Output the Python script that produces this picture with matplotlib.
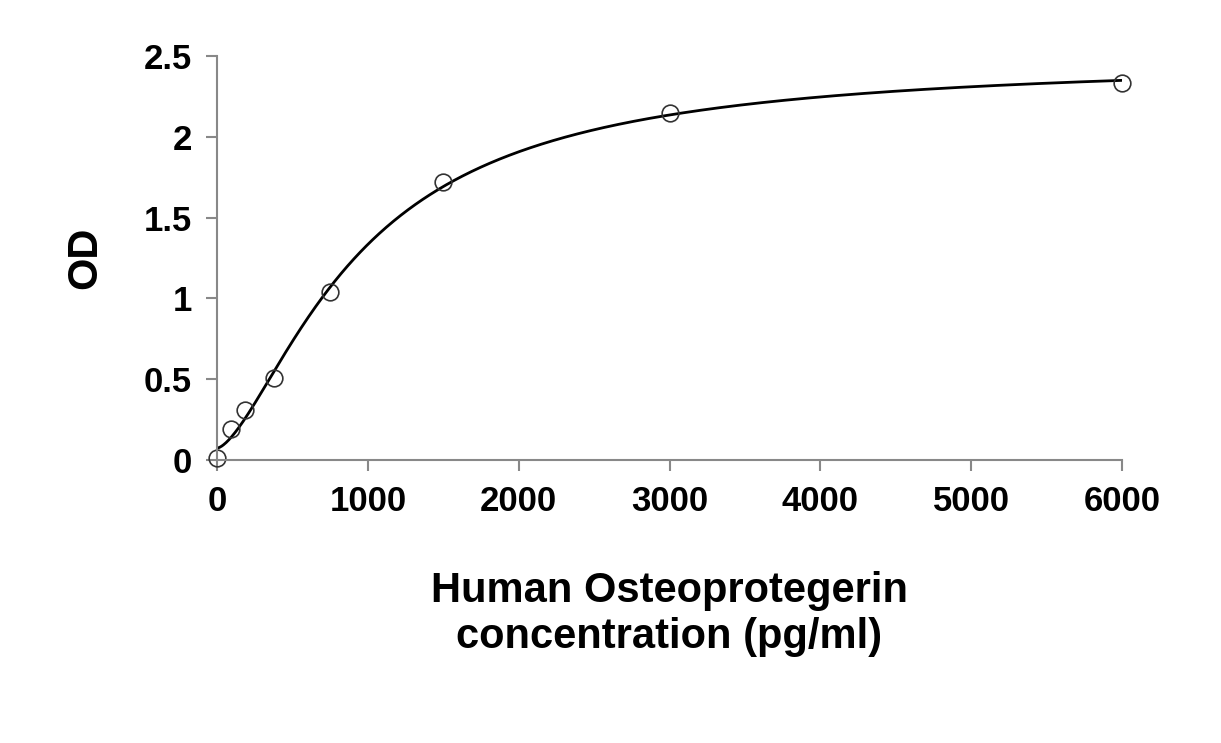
import numpy as np
import matplotlib
matplotlib.use("Agg")
import matplotlib.pyplot as plt

conc = [0, 93.75, 187.5, 375, 750, 1500, 3000, 6000]
od = [0.01, 0.19, 0.31, 0.51, 1.04, 1.72, 2.15, 2.33]
xticks = [0, 1000, 2000, 3000, 4000, 5000, 6000]
yticks = [0, 0.5, 1, 1.5, 2, 2.5]
yticklabels = ["0", "0.5", "1", "1.5", "2", "2.5"]

# 4-parameter logistic fit: grid search on b, c, linear least squares on a, d
x = np.asarray(conc, float); y = np.asarray(od, float)
best = None
for b in np.linspace(0.8, 4, 161):
    for c in np.linspace(300, 3000, 271):
        g = 1.0 / (1.0 + (x / c) ** b)
        A = np.vstack([g, 1 - g]).T
        coef, *_ = np.linalg.lstsq(A, y, rcond=None)
        r = np.sum((A @ coef - y) ** 2)
        if best is None or r < best[0]:
            best = (r, b, c, coef)
_, b, c, (a, d) = best
xs = np.linspace(0, 6000, 1000)
ys = d + (a - d) / (1 + (xs / c) ** b)

fig = plt.figure(figsize=(12.21, 7.43), dpi=100)
ax = fig.add_axes([0.1777, 0.381, 0.7413, 0.5436])
ax.plot(xs, ys, color="black", lw=2)
ax.plot(conc, od, "o", mfc="none", mec="#333333", ms=12, mew=1.2, clip_on=False)
ax.set_xlim(0, 6000); ax.set_ylim(0, 2.5)
ax.set_xticks(xticks); ax.set_yticks(yticks); ax.set_yticklabels(yticklabels)
for s in ["top", "right"]:
    ax.spines[s].set_visible(False)
for s in ["left", "bottom"]:
    ax.spines[s].set_color("#888888"); ax.spines[s].set_linewidth(1.5)
ax.tick_params(direction="out", length=8, width=1.5, color="#888888", labelsize=25, pad=10)
for lab in ax.get_xticklabels() + ax.get_yticklabels():
    lab.set_fontweight("bold"); lab.set_family("Liberation Sans")
ax.set_xlabel("Human Osteoprotegerin\nconcentration (pg/ml)", fontsize=30, fontweight="bold",
              family="Liberation Sans", labelpad=38, linespacing=1.2)
ax.set_ylabel("OD", fontsize=30, fontweight="bold", family="Liberation Sans", labelpad=28)
fig.savefig("out.png", dpi=100)
